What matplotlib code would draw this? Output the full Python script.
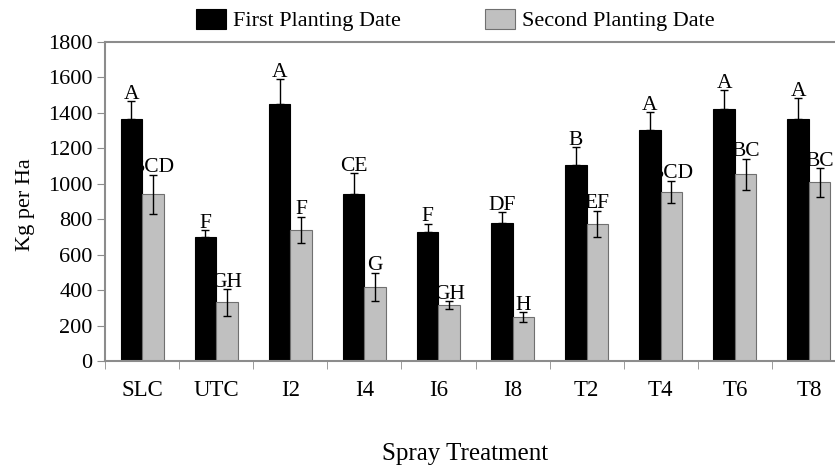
import matplotlib
matplotlib.use("Agg")
import matplotlib.pyplot as plt
import numpy as np

categories = ["SLC", "UTC", "I2", "I4", "I6", "I8", "T2", "T4", "T6", "T8"]
first_vals = [1366, 701, 1450, 940, 730, 777, 1108, 1304, 1422, 1364]
first_err = [100, 38, 140, 120, 45, 62, 98, 100, 107, 120]
first_letters = ["A", "F", "A", "CE", "F", "DF", "B", "A", "A", "A"]
second_vals = [940, 331, 739, 419, 316, 247, 773, 955, 1054, 1008]
second_err = [110, 75, 75, 80, 22, 28, 75, 63, 87, 80]
second_letters = ["BCD", "GH", "F", "G", "GH", "H", "EF", "BCD", "BC", "BC"]
yticks = [0, 200, 400, 600, 800, 1000, 1200, 1400, 1600, 1800]

plt.rcParams['font.family'] = ['Liberation Serif', 'DejaVu Serif']

fig = plt.figure(figsize=(8.35, 4.7), dpi=100)
ax = fig.add_axes([105/835, 1-361/470, 741/835, 319/470])

x = np.arange(len(categories))
w = 0.29
spine_c = "#8c8c8c"
b1 = ax.bar(x - w/2, first_vals, w, color="black", edgecolor="black", linewidth=0.8,
            label="First Planting Date", zorder=2)
b2 = ax.bar(x + w/2, second_vals, w, color="#c0c0c0", edgecolor="#707070", linewidth=0.8,
            label="Second Planting Date", zorder=2)
ax.errorbar(x - w/2, first_vals, yerr=[np.zeros(len(x)), first_err], fmt="none",
            ecolor="black", elinewidth=1, capsize=3, capthick=1, zorder=3)
ax.errorbar(x + w/2, second_vals, yerr=second_err, fmt="none",
            ecolor="black", elinewidth=1, capsize=3, capthick=1, zorder=3)

for xi, v, e, t in zip(x - w/2, first_vals, first_err, first_letters):
    ax.text(xi, v + e + 14, t, ha="center", va="baseline", fontsize=15.5, clip_on=False)
for xi, v, e, t in zip(x + w/2, second_vals, second_err, second_letters):
    ax.text(xi, v + e + 14, t, ha="center", va="baseline", fontsize=15.5, clip_on=False)

ax.set_xlim(-0.5, len(categories) - 0.5)
ax.set_ylim(0, 1800)
ax.set_yticks(yticks)
ax.set_yticklabels([str(t) for t in yticks], fontsize=16)
ax.set_xticks(x)
ax.set_xticklabels(categories, fontsize=16.5)
ax.set_xticks(np.arange(len(categories) + 1) - 0.5, minor=True)
ax.tick_params(axis="x", which="major", length=0, pad=14)
ax.tick_params(axis="x", which="minor", length=6, color=spine_c, direction="out")
ax.tick_params(axis="y", length=6, color=spine_c, direction="out", pad=3)

for s in ["left", "bottom", "top"]:
    ax.spines[s].set_color(spine_c)
    ax.spines[s].set_linewidth(1.5)
ax.spines["right"].set_visible(False)

ax.set_ylabel("Kg per Ha", fontsize=16)
ax.yaxis.set_label_coords((35 - 105) / 741, 0.49)
fig.text(465/835, 1-454/470, "Spray Treatment", ha="center", va="center", fontsize=18)

leg = fig.legend(handles=[b1, b2], loc="center", bbox_to_anchor=(455/835, 1-20/470),
                 ncol=2, frameon=False, fontsize=16, handlelength=1.35, handleheight=1.05,
                 columnspacing=3.8, handletextpad=0.3, borderpad=0, borderaxespad=0)

fig.savefig("out.png", dpi=100)
